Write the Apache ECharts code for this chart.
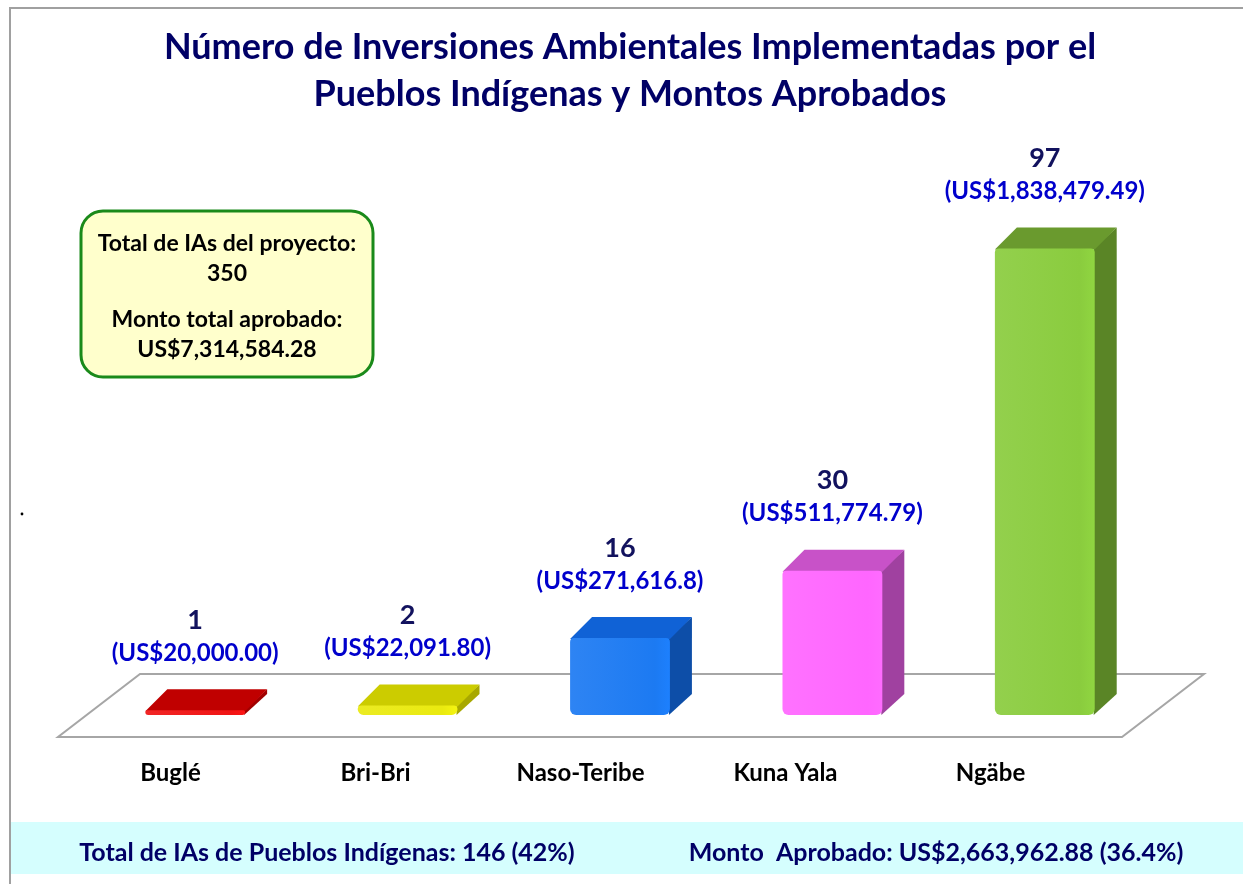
<!DOCTYPE html>
<html>
<head>
<meta charset="utf-8">
<script src="https://cdn.jsdelivr.net/npm/echarts@6/dist/echarts.min.js"></script>
<style>
  html, body { margin: 0; padding: 0; background: #fff; }
  #chart { width: 1243px; height: 884px; }
</style>
</head>
<body>
<div id="chart"></div>
<script>
var categories = ['Buglé', 'Bri-Bri', 'Naso-Teribe', 'Kuna Yala', 'Ngäbe'];
var counts = [1, 2, 16, 30, 97];
var amountLabels = ['(US$20,000.00)', '(US$22,091.80)', '(US$271,616.8)', '(US$511,774.79)', '(US$1,838,479.49)'];

// front / top / side colours for each bar
var palette = [
    ['#f01414', '#c00000', '#a00000'],
    ['#eaea10', '#cccc00', '#a8a800'],
    ['#1c7af2', '#1062d6', '#0d4ea8'],
    ['#ff66ff', '#c852c8', '#a041a0'],
    ['#8acc3e', '#6a9a2e', '#5a8526']
];

var myChart = echarts.init(document.getElementById('chart'));
var font = 'Lato, "Open Sans", sans-serif';
var dx = 22, dy = -21;

function renderBar(params, api) {
    var i = api.value(0);
    var v = api.value(1);
    var base = api.coord([i, 0]);
    var top = api.coord([i, v]);
    var w = api.size([1, 0])[0] * 0.47;
    var x0 = base[0] - w / 2, x1 = base[0] + w / 2;
    var yb = base[1], yt = top[1];
    var c = palette[i];
    return {
        type: 'group',
        children: [
            {
                type: 'polygon',
                shape: { points: [[x1 - 1, yt], [x1 + dx, yt + dy], [x1 + dx, yb + dy], [x1 - 1, yb]] },
                style: { fill: c[2] }
            },
            {
                type: 'polygon',
                shape: { points: [[x0, yt + 1], [x0 + dx, yt + dy], [x1 + dx, yt + dy], [x1, yt + 1]] },
                style: { fill: c[1] }
            },
            {
                type: 'rect',
                shape: { x: x0, y: yt, width: w, height: Math.max(yb - yt, 3), r: [4, 4, 6, 6] },
                style: {
                    fill: new echarts.graphic.LinearGradient(0, 0, 1, 0, [
                        { offset: 0, color: echarts.color.lift(c[0], 0.08) },
                        { offset: 0.85, color: c[0] },
                        { offset: 1, color: echarts.color.lift(c[0], -0.05) }
                    ])
                }
            },
            {
                type: 'text',
                style: {
                    x: base[0], y: yt - 90, text: String(v),
                    align: 'center', verticalAlign: 'middle',
                    font: 'bold 27px ' + font, fill: '#12125e'
                }
            },
            {
                type: 'text',
                style: {
                    x: base[0], y: yt - 57, text: amountLabels[i],
                    align: 'center', verticalAlign: 'middle',
                    font: 'bold 24px ' + font, fill: '#0000cc'
                }
            }
        ]
    };
}

var option = {
    backgroundColor: '#ffffff',
    animation: false,
    title: {
        text: 'Número de Inversiones Ambientales Implementadas por el\nPueblos Indígenas y Montos Aprobados',
        left: 630,
        textAlign: 'center',
        top: 24,
        padding: 0,
        textStyle: {
            fontFamily: font, fontSize: 36, fontWeight: 'bold',
            color: '#000066', lineHeight: 47
        }
    },
    grid: [
        { left: 89, right: 92, top: 234, bottom: 169 },
        { left: 68, right: 150, top: 234, bottom: 169 }
    ],
    xAxis: [
        {
            type: 'category', gridIndex: 0, data: categories,
            axisLine: { show: false }, axisTick: { show: false }, axisLabel: { show: false }
        },
        {
            type: 'category', gridIndex: 1, data: categories,
            axisLine: { show: false }, axisTick: { show: false },
            axisLabel: { margin: 46, fontFamily: font, fontSize: 24, fontWeight: 'bold', color: '#000' }
        }
    ],
    yAxis: [
        { type: 'value', gridIndex: 0, min: 0, max: 100, show: false },
        { type: 'value', gridIndex: 1, min: 0, max: 100, show: false }
    ],
    series: [{
        type: 'custom',
        xAxisIndex: 0,
        yAxisIndex: 0,
        z: 5,
        renderItem: renderBar,
        encode: { x: 0, y: 1 },
        data: counts.map(function (v, i) { return [i, v]; })
    }],
    graphic: [
        {
            type: 'polyline', z: 0,
            shape: { points: [[10, 884], [10, 8], [1243, 8]] },
            style: { stroke: '#a0a0a0', lineWidth: 2, fill: null }
        },
        {
            type: 'polygon', z: 1,
            shape: { points: [[140, 674], [1204, 674], [1122, 737], [58, 737]] },
            style: { fill: '#ffffff', stroke: '#a6a6a6', lineWidth: 2 }
        },
        {
            type: 'circle', z: 1,
            shape: { cx: 22, cy: 514, r: 1.4 },
            style: { fill: '#000' }
        },
        {
            type: 'rect', z: 1,
            shape: { x: 81, y: 211, width: 292, height: 166, r: 22 },
            style: { fill: '#ffffcc', stroke: '#1a8a1a', lineWidth: 3 }
        },
        { type: 'text', z: 2, style: { x: 227, y: 244, text: 'Total de IAs del proyecto:', align: 'center', verticalAlign: 'middle', font: 'bold 23px ' + font, fill: '#000' } },
        { type: 'text', z: 2, style: { x: 227, y: 274, text: '350', align: 'center', verticalAlign: 'middle', font: 'bold 23px ' + font, fill: '#000' } },
        { type: 'text', z: 2, style: { x: 227, y: 320, text: 'Monto total aprobado:', align: 'center', verticalAlign: 'middle', font: 'bold 23px ' + font, fill: '#000' } },
        { type: 'text', z: 2, style: { x: 227, y: 350, text: 'US$7,314,584.28', align: 'center', verticalAlign: 'middle', font: 'bold 23px ' + font, fill: '#000' } },
        {
            type: 'rect', z: 1,
            shape: { x: 11, y: 822, width: 1232, height: 52 },
            style: { fill: '#d5fefe' }
        },
        { type: 'text', z: 2, style: { x: 327, y: 853, text: 'Total de IAs de Pueblos Indígenas: 146 (42%)', align: 'center', verticalAlign: 'middle', font: 'bold 25px ' + font, fill: '#000066' } },
        { type: 'text', z: 2, style: { x: 936, y: 853, text: 'Monto  Aprobado: US$2,663,962.88 (36.4%)', align: 'center', verticalAlign: 'middle', font: 'bold 25px ' + font, fill: '#000066' } }
    ]
};

myChart.setOption(option);
</script>
</body>
</html>
